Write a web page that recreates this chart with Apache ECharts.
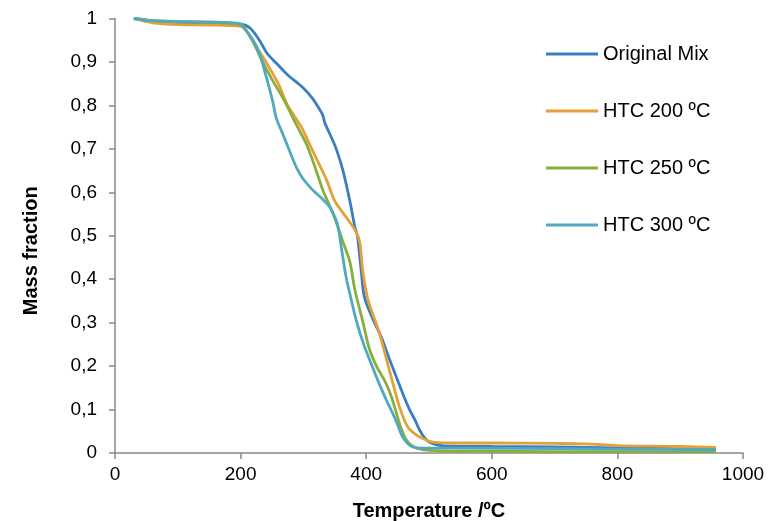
<!DOCTYPE html>
<html>
<head>
<meta charset="utf-8">
<script src="https://cdn.jsdelivr.net/npm/echarts@6/dist/echarts.min.js"></script>
<style>
  html, body { margin: 0; padding: 0; background: #fff; }
  #chart { width: 783px; height: 521px; }
</style>
</head>
<body>
<div id="chart"></div>
<script>
// values
const seriesNames = ["Original Mix", "HTC 200 ºC", "HTC 250 ºC", "HTC 300 ºC"];

const tempOriginal = [30, 60, 100, 150, 200, 215, 230, 242, 257, 275, 299, 315, 326, 331, 334, 345, 353, 363, 374, 382, 386, 392, 397, 410, 424, 436, 448, 460, 469, 478, 485, 493, 501, 520, 600, 700, 800, 900, 957];
const massOriginal = [1, 0.993, 0.99, 0.989, 0.987, 0.978, 0.95, 0.92, 0.897, 0.87, 0.841, 0.815, 0.79, 0.777, 0.76, 0.725, 0.697, 0.65, 0.58, 0.52, 0.5, 0.42, 0.36, 0.31, 0.267, 0.22, 0.175, 0.13, 0.1, 0.075, 0.053, 0.035, 0.025, 0.017, 0.015, 0.014, 0.012, 0.01, 0.009];

const temp200 = [30, 60, 100, 150, 200, 210, 225, 242, 260, 275, 297, 310, 325, 337, 350, 372, 385, 390, 395, 403, 421, 437, 453, 466, 475, 485, 506, 550, 600, 700, 750, 800, 900, 957];
const mass200 = [1, 0.99, 0.986, 0.985, 0.982, 0.97, 0.935, 0.896, 0.85, 0.8, 0.75, 0.71, 0.665, 0.628, 0.58, 0.535, 0.506, 0.483, 0.414, 0.352, 0.276, 0.19, 0.106, 0.06, 0.047, 0.037, 0.025, 0.023, 0.023, 0.022, 0.021, 0.017, 0.015, 0.013];

const temp250 = [30, 60, 100, 150, 200, 210, 222, 235, 250, 270, 289, 305, 318, 331, 340, 350, 362, 374, 382, 394, 405, 417, 430, 440, 448, 456, 464, 475, 490, 520, 600, 800, 957];
const mass250 = [1, 0.995, 0.993, 0.991, 0.986, 0.97, 0.94, 0.9, 0.86, 0.81, 0.755, 0.71, 0.66, 0.605, 0.575, 0.54, 0.49, 0.44, 0.375, 0.306, 0.24, 0.198, 0.165, 0.13, 0.092, 0.055, 0.03, 0.015, 0.008, 0.005, 0.004, 0.003, 0.003];

const temp300 = [30, 60, 100, 150, 199, 210, 220, 230, 240, 251, 257, 267, 278, 289, 300, 315, 330, 342, 352, 356, 361, 368, 375, 384, 396, 410, 422, 432, 442, 450, 458, 466, 474, 490, 550, 700, 800, 957];
const mass300 = [1, 0.995, 0.993, 0.992, 0.988, 0.97, 0.95, 0.92, 0.87, 0.81, 0.77, 0.735, 0.695, 0.657, 0.63, 0.605, 0.585, 0.566, 0.536, 0.515, 0.467, 0.405, 0.36, 0.306, 0.25, 0.198, 0.155, 0.122, 0.092, 0.065, 0.037, 0.022, 0.014, 0.011, 0.011, 0.01, 0.009, 0.008];

const colors = ["#3A7EC2", "#E6A03A", "#8AAE3C", "#4FAAC0"];

const zip = (xs, ys) => xs.map((x, i) => [x, ys[i]]);
const curves = [
  zip(tempOriginal, massOriginal),
  zip(temp200, mass200),
  zip(temp250, mass250),
  zip(temp300, mass300)
];

const axisGrey = "#898989";
const font = "Liberation Sans, Arial, sans-serif";

const chart = echarts.init(document.getElementById("chart"));
chart.setOption({
  animation: false,
  color: colors,
  textStyle: { fontFamily: font },
  grid: { left: 115, right: 40, top: 18.5, bottom: 68, outerBoundsMode: "none" },
  legend: {
    orient: "vertical",
    left: 541,
    top: 39,
    itemWidth: 52,
    itemHeight: 3,
    itemGap: 37,
    icon: "rect",
    textStyle: { fontSize: 20, color: "#000", fontFamily: font },
    data: seriesNames
  },
  xAxis: {
    type: "value",
    min: 0,
    max: 1000,
    interval: 200,
    name: "Temperature /ºC",
    nameLocation: "middle",
    nameGap: 48,
    nameTextStyle: { fontSize: 20, fontWeight: "bold", color: "#000" },
    axisLine: { lineStyle: { color: axisGrey, width: 1.5 } },
    axisTick: { length: 6, lineStyle: { color: axisGrey, width: 1.5 } },
    axisLabel: { fontSize: 19, color: "#000", margin: 12, formatter: v => String(v) },
    splitLine: { show: false }
  },
  yAxis: {
    type: "value",
    min: 0,
    max: 1,
    interval: 0.1,
    name: "Mass fraction",
    nameLocation: "middle",
    nameGap: 74,
    nameTextStyle: { fontSize: 20, fontWeight: "bold", color: "#000", padding: [0, 30, 0, 0] },
    axisLine: { show: true, lineStyle: { color: axisGrey, width: 1.5 } },
    axisTick: { show: true, length: 6, lineStyle: { color: axisGrey, width: 1.5 } },
    axisLabel: {
      fontSize: 19,
      color: "#000",
      margin: 18,
      formatter: v => (v === 0 ? "0" : v === 1 ? "1" : v.toFixed(1).replace(".", ","))
    },
    splitLine: { show: false }
  },
  series: curves.map((data, i) => ({
    name: seriesNames[i],
    type: "line",
    data: data,
    showSymbol: false,
    smooth: 0.3,
    lineStyle: { width: 2.8, color: colors[i] }
  }))
});
</script>
</body>
</html>
